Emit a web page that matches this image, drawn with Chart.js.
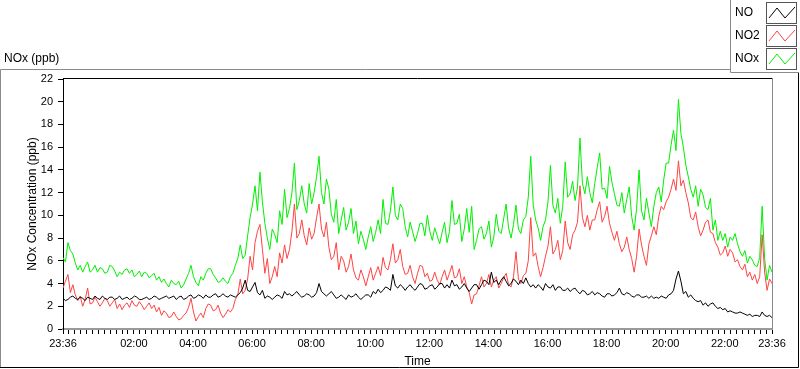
<!DOCTYPE html>
<html>
<head>
<meta charset="utf-8">
<title>NOx (ppb)</title>
<script src="https://cdn.jsdelivr.net/npm/chart.js@4.4.0/dist/chart.umd.min.js"></script>
<style>
  html, body { margin: 0; padding: 0; background: #fff; }
</style>
</head>
<body>
<canvas id="chart" width="800" height="369"></canvas>
<script>
// readings every 5 minutes, first one at 23:36 (one row = one hour)
var sampleStep = 5;

var no = [
  2.7,2.5,2.6,2.8,2.9,2.7,2.6,2.8,2.7,2.5,2.8,2.7,
  2.6,2.9,2.7,2.6,2.9,2.7,2.6,2.8,2.8,2.6,2.7,2.9,
  2.6,2.7,2.8,2.6,2.7,2.9,2.8,2.6,2.6,2.7,2.8,2.6,
  2.7,2.9,2.8,2.6,2.7,2.8,2.9,2.7,2.8,2.9,2.6,2.8,
  2.9,2.6,2.7,2.9,3.0,2.7,2.8,3.0,2.9,2.7,3.0,2.8,
  2.8,3.0,3.1,2.8,2.9,3.1,2.9,2.8,3.0,2.9,2.8,3.0,
  3.2,3.6,4.3,3.4,3.3,3.7,4.1,3.2,3.0,3.4,2.7,2.9,
  2.8,2.6,2.8,3.0,2.9,2.7,3.3,3.0,3.1,2.9,3.1,3.3,
  3.0,2.8,2.9,3.1,3.0,2.8,2.9,3.2,4.0,3.3,3.1,2.9,
  3.1,3.3,3.0,2.7,2.8,3.0,2.8,2.6,3.0,2.8,2.9,3.1,
  2.8,2.6,2.8,3.0,3.0,2.8,3.3,3.1,3.5,3.2,3.4,3.7,
  3.6,3.4,4.8,3.8,3.6,3.9,3.7,3.4,3.7,3.9,3.6,3.4,
  3.7,4.0,3.9,3.5,3.6,3.8,3.9,3.5,3.7,4.0,4.0,3.6,
  3.9,3.6,4.3,3.8,3.9,3.5,3.7,4.0,3.6,3.3,3.6,3.9,
  3.9,3.5,3.9,4.3,4.2,3.9,5.0,4.1,4.3,3.9,4.3,4.6,
  4.2,3.8,4.0,4.4,4.2,3.9,4.3,4.0,4.5,4.0,3.7,3.9,
  3.6,3.9,3.7,3.4,4.0,3.7,3.6,3.9,3.4,3.7,3.7,3.4,
  3.4,3.6,3.3,3.5,3.6,3.3,3.1,3.4,3.3,3.0,3.1,3.3,
  3.0,3.2,3.1,2.9,2.8,3.1,3.1,2.9,3.0,3.2,3.6,3.1,
  3.0,3.2,3.1,2.9,2.8,3.0,3.0,2.8,2.8,2.9,2.7,2.9,
  2.7,2.8,2.7,2.9,2.8,2.7,3.0,3.1,3.4,4.4,5.1,4.2,
  3.1,3.3,2.8,3.0,2.7,2.5,2.4,2.5,2.1,2.3,2.0,2.2,
  2.3,2.0,1.8,1.9,1.7,1.8,1.5,1.6,1.5,1.4,1.4,1.5,
  1.4,1.3,1.2,1.3,1.1,1.2,1.2,1.1,1.5,1.2,1.1,1.2,
  1.0];

var no2 = [
  3.6,4.2,4.8,3.2,3.9,3.0,2.5,2.9,2.0,2.6,3.6,2.2,
  2.3,2.8,2.4,2.0,2.3,2.7,2.5,2.0,2.3,2.6,1.8,2.2,
  1.7,2.1,2.3,1.9,2.5,2.1,2.0,2.4,2.1,1.7,2.0,2.3,
  1.8,2.1,1.5,1.9,1.2,1.6,1.4,1.0,1.1,1.5,1.1,0.8,
  0.9,1.2,1.4,1.9,2.7,1.5,0.7,1.1,1.4,1.0,1.8,2.2,
  2.1,1.6,1.7,2.1,1.4,1.0,1.3,1.7,1.5,1.8,2.6,3.0,
  4.4,3.1,3.4,4.4,6.4,5.2,7.6,8.6,9.2,7.0,4.9,6.2,
  4.0,4.6,5.5,4.6,6.7,5.8,7.4,6.2,7.0,8.6,11.0,8.0,
  8.4,9.6,8.2,7.4,8.9,7.9,8.4,9.8,11.0,8.8,8.1,9.4,
  7.2,6.1,6.4,7.6,5.2,6.4,6.0,5.0,5.5,6.6,5.2,4.5,
  4.3,5.2,4.6,3.8,4.6,5.4,4.3,4.9,5.5,4.7,6.3,5.4,
  5.2,6.1,7.5,5.8,6.1,7.0,5.5,4.8,4.9,5.6,4.6,4.0,
  4.9,5.6,5.5,4.6,4.9,4.2,4.3,5.0,4.3,3.9,4.6,5.2,
  4.3,4.9,5.6,4.5,4.6,5.3,4.0,4.6,3.7,3.2,2.2,3.0,
  3.1,3.8,4.6,3.7,4.0,4.8,3.7,4.3,4.6,3.6,4.0,4.5,
  4.9,3.9,3.7,4.6,6.8,4.4,4.0,4.7,4.9,6.0,9.8,6.4,
  6.7,5.5,4.6,5.4,6.4,7.3,9.0,6.6,7.0,7.8,6.1,6.9,
  9.5,7.6,7.0,8.3,8.7,9.4,12.6,9.8,9.0,10.0,8.7,9.6,
  9.6,10.5,11.2,9.4,9.9,10.8,9.3,8.5,7.8,8.6,7.5,6.8,
  7.2,8.1,7.0,6.2,5.0,6.4,8.8,7.4,6.4,5.6,7.5,8.2,
  9.0,8.3,9.9,10.8,10.5,11.2,11.6,12.3,13.2,12.2,14.8,12.6,
  13.1,12.0,11.1,9.8,9.6,10.3,9.0,8.2,8.7,9.4,9.6,8.5,
  8.4,7.6,7.2,6.5,6.7,7.3,6.4,7.0,6.7,5.9,6.1,5.5,
  5.2,5.7,4.6,5.0,4.3,4.8,4.0,4.6,8.3,5.0,3.4,4.4,
  4.0];

var nox = [
  6.3,5.9,7.6,6.9,6.6,5.8,5.2,5.6,5.0,5.5,5.9,5.0,
  5.2,5.6,5.0,5.4,5.3,4.9,5.0,5.6,5.5,5.1,4.6,5.0,
  4.8,5.2,5.3,4.9,5.2,4.6,4.8,5.1,4.6,5.0,4.9,4.5,
  4.7,4.9,4.3,4.6,4.1,4.4,4.0,3.7,4.3,4.0,3.9,4.2,
  3.6,3.9,4.4,4.9,5.6,4.6,4.1,3.8,4.6,4.3,4.9,5.3,
  5.3,4.8,4.5,4.1,4.2,4.5,4.2,4.0,4.6,4.9,5.6,6.2,
  7.4,6.2,6.5,8.2,9.8,11.0,12.6,10.4,13.8,11.2,9.3,8.0,
  7.0,8.8,8.3,7.6,10.4,9.2,12.3,9.8,10.6,12.0,14.6,10.5,
  11.3,12.6,11.0,10.2,12.8,11.0,12.0,13.4,15.2,12.0,11.0,13.2,
  12.3,10.1,9.4,11.4,8.4,9.6,10.7,8.7,9.4,10.6,8.4,9.5,
  7.5,8.6,7.9,7.0,8.1,9.0,7.7,8.5,9.6,8.4,11.4,9.3,
  9.2,10.4,12.5,10.0,9.6,11.0,10.6,9.0,8.1,9.4,8.6,7.7,
  8.4,9.3,9.3,8.2,10.0,8.6,7.8,8.9,8.2,7.5,8.5,9.4,
  7.6,8.6,11.3,9.2,9.3,10.1,7.7,8.8,10.6,8.5,10.8,7.0,
  7.8,8.8,9.0,7.9,8.4,9.5,7.2,8.1,10.1,8.6,8.4,9.7,
  11.0,8.9,8.0,9.2,10.9,8.8,8.4,9.6,9.9,11.6,15.2,10.9,
  9.6,8.9,7.8,9.0,9.6,11.2,14.4,10.9,10.2,11.5,9.3,10.8,
  14.7,11.6,11.9,13.0,11.3,12.5,16.8,12.8,11.9,13.4,12.0,11.1,
  12.8,14.2,15.5,12.3,12.4,11.5,14.3,12.9,11.9,10.9,10.8,12.0,
  10.2,11.4,12.5,9.9,8.7,10.6,14.0,10.4,9.6,11.5,10.2,9.0,
  10.8,12.0,12.5,11.2,13.1,14.6,14.6,16.2,17.5,15.7,20.2,17.2,
  16.0,14.4,13.4,12.3,11.6,12.6,10.8,12.3,11.8,10.7,10.5,11.5,
  8.7,9.6,7.8,8.6,7.8,8.4,7.2,8.1,7.8,8.4,7.5,6.8,
  6.4,6.9,5.8,6.4,6.1,5.6,5.5,6.3,10.8,6.2,4.3,5.6,
  5.0];

// time axis labels, in minutes after 23:36
var tickLabels = ['23:36','02:00','04:00','06:00','08:00','10:00','12:00',
                  '14:00','16:00','18:00','20:00','22:00','23:36'];
var tickMinutes = [0,144,264,384,504,624,744,864,984,1104,1224,1344,1440];

var fontFamily = "'Liberation Sans', Arial, sans-serif";

function toPoints(arr) {
    return arr.map(function (v, i) { return {x: i * sampleStep, y: v}; });
}

var framePlugin = {
    id: 'frame',
    beforeDraw: function (chart) {
        var ctx = chart.ctx;
        ctx.save();
        ctx.fillStyle = '#fff';
        ctx.fillRect(0, 0, chart.width, chart.height);
        ctx.lineWidth = 1;
        ctx.strokeStyle = '#8a8a8a';
        ctx.beginPath();
        ctx.moveTo(0.5, 368);
        ctx.lineTo(0.5, 69.5);
        ctx.lineTo(730, 69.5);
        ctx.stroke();
        ctx.strokeStyle = '#000';
        ctx.beginPath();
        ctx.moveTo(798.5, 72);
        ctx.lineTo(798.5, 367.5);
        ctx.lineTo(0, 367.5);
        ctx.stroke();
        ctx.restore();
    },
    afterDraw: function (chart) {
        var ctx = chart.ctx;
        var a = chart.chartArea;
        ctx.save();
        // plot box top / right
        ctx.lineWidth = 1;
        ctx.strokeStyle = '#000';
        ctx.beginPath();
        ctx.moveTo(a.left, a.top - 0.5);
        ctx.lineTo(a.right, a.top - 0.5);
        ctx.stroke();
        ctx.strokeStyle = '#8a8a8a';
        ctx.beginPath();
        ctx.moveTo(a.right + 0.5, a.top - 1);
        ctx.lineTo(a.right + 0.5, a.bottom);
        ctx.stroke();

        // legend box
        ctx.strokeStyle = '#8a8a8a';
        ctx.beginPath();
        ctx.moveTo(730.5, 0);
        ctx.lineTo(730.5, 72.5);
        ctx.lineTo(799, 72.5);
        ctx.stroke();
        var rows = [13, 36, 59];
        ctx.font = '12px ' + fontFamily;
        ctx.textBaseline = 'middle';
        chart.data.datasets.forEach(function (ds, i) {
            var r = rows[i];
            ctx.fillStyle = '#000';
            ctx.fillText(ds.label, 735, r);
            ctx.strokeStyle = '#555';
            ctx.strokeRect(766.5, r - 10.5, 30, 21);
            ctx.strokeStyle = ds.borderColor;
            ctx.beginPath();
            ctx.moveTo(769, r + 5);
            ctx.lineTo(777, r - 5);
            ctx.lineTo(785, r + 5);
            ctx.lineTo(795, r - 6);
            ctx.stroke();
        });
        ctx.restore();
    }
};

var chart = new Chart(document.getElementById('chart'), {
    type: 'line',
    data: {
        datasets: [{
            label: 'NO',
            data: toPoints(no),
            borderColor: '#000000'
        }, {
            label: 'NO2',
            data: toPoints(no2),
            borderColor: '#ff4343'
        }, {
            label: 'NOx',
            data: toPoints(nox),
            borderColor: '#00f000'
        }]
    },
    options: {
        responsive: false,
        animation: false,
        events: [],
        elements: {
            point: { radius: 0 },
            line: { borderWidth: 1, tension: 0 }
        },
        layout: { padding: { left: 4, right: 28, top: 0, bottom: 0 } },
        plugins: {
            legend: { display: false },
            tooltip: { enabled: false },
            title: {
                display: true,
                text: 'NOx (ppb)',
                align: 'start',
                color: '#000',
                font: { size: 12, weight: 'normal', family: fontFamily },
                padding: { top: 51, bottom: 13.6 }
            }
        },
        scales: {
            x: {
                type: 'linear',
                min: 0,
                max: 1440,
                afterBuildTicks: function (scale) {
                    var t = [];
                    for (var m = 0; m <= 1440; m += 12) t.push({ value: m });
                    scale.ticks = t;
                },
                afterFit: function (scale) { scale.height = 40; },
                ticks: {
                    autoSkip: false,
                    maxRotation: 0,
                    padding: 3,
                    color: '#000',
                    font: { size: 11, family: fontFamily },
                    callback: function (v) {
                        var i = tickMinutes.indexOf(v);
                        return i < 0 ? '' : tickLabels[i];
                    }
                },
                grid: { drawOnChartArea: false, tickLength: 5, tickColor: '#000' },
                border: { color: '#999', width: 2 },
                title: {
                    display: true,
                    text: 'Time',
                    color: '#000',
                    font: { size: 12, family: fontFamily },
                    padding: { top: 0, bottom: 0 }
                }
            },
            y: {
                min: 0,
                max: 22,
                afterFit: function (scale) { scale.width = 59; },
                ticks: {
                    stepSize: 2,
                    padding: 5,
                    color: '#000',
                    font: { size: 11, family: fontFamily }
                },
                grid: { drawOnChartArea: false, tickLength: 5, tickColor: '#000' },
                border: { color: '#000', width: 1 },
                title: {
                    display: true,
                    text: 'NOx Concentration (ppb)',
                    color: '#000',
                    font: { size: 12, family: fontFamily },
                    padding: { top: 21, bottom: 0 }
                }
            }
        }
    },
    plugins: [framePlugin]
});
</script>
</body>
</html>
